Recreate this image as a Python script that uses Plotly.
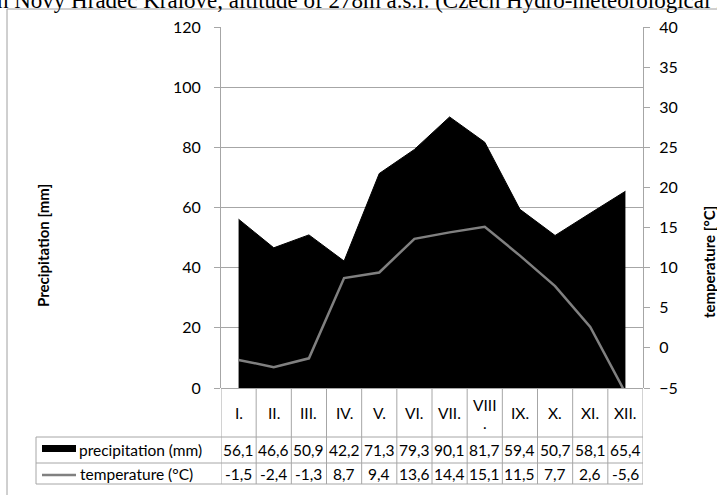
import plotly.graph_objects as go

months = ["I.", "II.", "III.", "IV.", "V.", "VI.", "VII.", "VIII.", "IX.", "X.", "XI.", "XII."]
precipitation = [56.1, 46.6, 50.9, 42.2, 71.3, 79.3, 90.1, 81.7, 59.4, 50.7, 58.1, 65.4]
temperature = [-1.5, -2.4, -1.3, 8.7, 9.4, 13.6, 14.4, 15.1, 11.5, 7.7, 2.6, -5.6]
precip_ticks = [0, 20, 40, 60, 80, 100, 120]
temp_ticks = [-5, 0, 5, 10, 15, 20, 25, 30, 35, 40]

W, H = 717, 495
L, R, T, B = 221, 643, 27, 388
PW, PH = R - L, B - T

def px(x):
    return (x - L) / PW

def py(y):
    return (B - y) / PH

GRID = "#a6a6a6"
FONT = "Lato"
TS = 15.5
xs = list(range(len(months)))

fig = go.Figure()
fig.add_trace(go.Scatter(x=xs, y=precipitation, mode="lines", fill="tozeroy",
                         fillcolor="black", line=dict(color="black", width=1),
                         name="precipitation (mm)", showlegend=False, hoverinfo="skip"))
fig.add_trace(go.Scatter(x=xs, y=temperature, mode="lines", yaxis="y2",
                         line=dict(color="#808080", width=2.5),
                         name="temperature (°C)", showlegend=False, hoverinfo="skip"))

shapes = []
ann = []

def text(x, y, s, xref="paper", xanchor="center", size=TS, family=FONT, angle=0):
    ann.append(dict(x=x, y=y, xref=xref, yref="paper", text=s, showarrow=False,
                    xanchor=xanchor, yanchor="middle", textangle=angle,
                    font=dict(family=family, size=size, color="black")))

# frame
shapes.append(dict(type="rect", xref="paper", yref="paper", x0=px(7), x1=px(760),
                   y0=py(540), y1=py(9), line=dict(color="#a0a0a0", width=1)))

# table lines
row_y = [437, 463, 484]
for yy in row_y:
    shapes.append(dict(type="line", xref="paper", yref="paper", x0=px(36), x1=px(R),
                       y0=py(yy), y1=py(yy), line=dict(color=GRID, width=1)))
shapes.append(dict(type="line", xref="paper", yref="paper", x0=px(36), x1=px(36),
                   y0=py(437), y1=py(484), line=dict(color=GRID, width=1)))
for k in range(len(months) + 1):
    shapes.append(dict(type="line", xref="x", yref="paper", x0=k - 0.5, x1=k - 0.5,
                       y0=py(484), y1=0, line=dict(color=GRID, width=1)))

# legend keys
shapes.append(dict(type="rect", xref="paper", yref="paper", x0=px(42), x1=px(76),
                   y0=py(452), y1=py(445), fillcolor="black", line=dict(width=0)))
shapes.append(dict(type="line", xref="paper", yref="paper", x0=px(42), x1=px(76),
                   y0=py(475), y1=py(475), line=dict(color="#808080", width=2.5)))

# category labels
for i, m in enumerate(months):
    if m == "VIII.":
        text(i, py(405), "VIII", xref="x")
        text(i, py(423), ".", xref="x")
    else:
        text(i, py(413), m, xref="x")

def fmt(v):
    return ("%.1f" % v).replace(".", ",")

for i in xs:
    text(i, py(450), fmt(precipitation[i]), xref="x")
    text(i, py(474), fmt(temperature[i]), xref="x")

text(px(77), py(450), "precipitation (mm)", xanchor="left")
text(px(78), py(474), "temperature (°C)", xanchor="left")

# axis titles
text(px(43), py(246), "<b>Precipitation [mm]</b>", size=15, angle=-90)
text(px(709), py(262), "<b>temperature [°C]</b>", size=15, angle=-90)

# title (cropped in reference)
text(px(-5), py(0), "n Nový Hradec Králové, altitude of 278m a.s.l. (Czech Hydro-meteorological Institute)",
     xanchor="left", size=23, family="Liberation Serif")

fig.update_layout(
    width=W, height=H,
    margin=dict(l=L, r=W - R, t=T, b=H - B, pad=0),
    plot_bgcolor="white", paper_bgcolor="white",
    showlegend=False, hovermode=False,
    shapes=shapes, annotations=ann,
    xaxis=dict(range=[-0.5, len(months) - 0.5], showticklabels=False, showgrid=False,
               zeroline=False, showline=False, fixedrange=True),
    yaxis=dict(range=[0, 120], tickvals=precip_ticks, showgrid=True, gridcolor=GRID, gridwidth=1,
               showline=True, linecolor=GRID, linewidth=1, ticks="outside", ticklen=6,
               tickcolor=GRID, zeroline=True, zerolinecolor=GRID, zerolinewidth=1,
               tickfont=dict(family=FONT, size=16, color="black"), ticklabelstandoff=10),
    yaxis2=dict(range=[-5, 40], tickvals=temp_ticks, overlaying="y", side="right",
                showgrid=False, zeroline=False, showline=True, linecolor=GRID, linewidth=1,
                ticks="outside", ticklen=6, tickcolor=GRID,
                tickfont=dict(family=FONT, size=16, color="black"), ticklabelstandoff=6),
)

fig.write_html("out.html", config={"displayModeBar": False},
               post_script="document.body.style.margin='0';document.body.style.overflow='hidden';")
